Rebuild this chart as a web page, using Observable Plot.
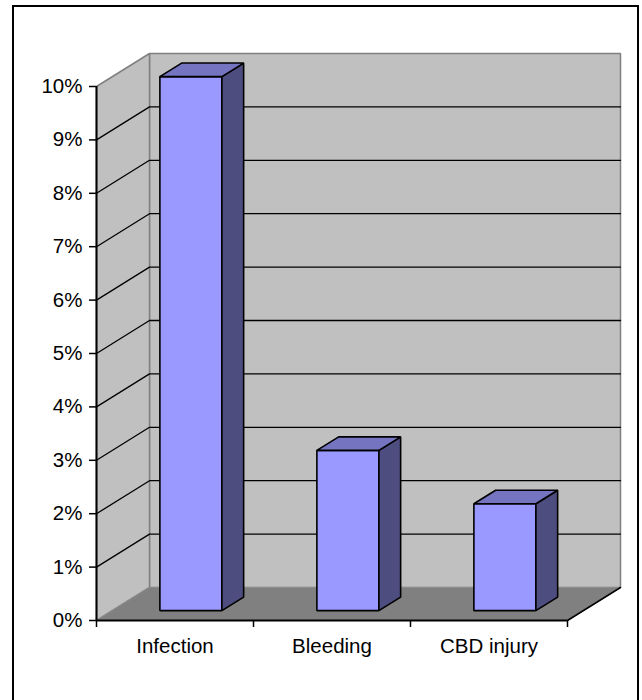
<!DOCTYPE html>
<html>
<head>
<meta charset="utf-8">
<script src="https://cdn.jsdelivr.net/npm/d3@7"></script>
<script src="https://cdn.jsdelivr.net/npm/@observablehq/plot@0.6"></script>
<style>
  html, body { margin: 0; padding: 0; overflow: hidden; background: #fff; width: 642px; height: 700px; }
  #frame { position: absolute; left: 12px; top: 5px; width: 627px; height: 720px; box-sizing: border-box; border: 2px solid #000; }
  #chart { position: absolute; left: 0; top: 0; }
</style>
</head>
<body>
<div id="frame"></div>
<div id="chart"></div>
<script>
// ---- data ----
const categories = ["Infection", "Bleeding", "CBD injury"];
const values = [0.10, 0.03, 0.02];
const yTicks = [0, 0.01, 0.02, 0.03, 0.04, 0.05, 0.06, 0.07, 0.08, 0.09, 0.10];
const gridValues = [0.01, 0.02, 0.03, 0.04, 0.05, 0.06, 0.07, 0.08, 0.09];
const categoryBounds = [-0.5, 0.5, 1.5, 2.5];

// ---- oblique 3D projection in data units ----
const DX = 0.3376;   // depth shift along x (category units)
const DY = 0.00618;  // depth shift along y (value units)
const yMax = 0.10;
const xMin = -0.5, xMax = 2.5;
const W = 0.395, d1 = 0.30, d2 = 0.71;
const P = (x, y, d) => ({x: x + d * DX, y: y + d * DY});
const poly = (id, pts) => pts.map(p => ({id, ...p}));

const backWall = poly("back", [P(xMin,0,1), P(xMax,0,1), P(xMax,yMax,1), P(xMin,yMax,1)]);
const leftWall = poly("left", [P(xMin,0,0), P(xMin,0,1), P(xMin,yMax,1), P(xMin,yMax,0)]);
const floor = poly("floor", [P(xMin,0,0), P(xMax,0,0), P(xMax,0,1), P(xMin,0,1)]);
const grid = gridValues.flatMap(v => poly(v, [P(xMin,v,0), P(xMin,v,1), P(xMax,v,1)]));

const fronts = [], sides = [], tops = [];
values.forEach((v, i) => {
  const xl = i - W / 2, xr = i + W / 2;
  fronts.push(...poly(i, [P(xl,0,d1), P(xr,0,d1), P(xr,v,d1), P(xl,v,d1)]));
  sides.push(...poly(i, [P(xr,0,d1), P(xr,0,d2), P(xr,v,d2), P(xr,v,d1)]));
  tops.push(...poly(i, [P(xl,v,d1), P(xr,v,d1), P(xr,v,d2), P(xl,v,d2)]));
});

const face = (data, fill, stroke, sw) => Plot.line(data, {
  x: "x", y: "y", z: "id", fill, stroke, strokeWidth: sw,
  curve: "linear-closed", strokeLinejoin: "miter", strokeLinecap: "butt"
});

const chart = Plot.plot({
  width: 642,
  height: 700,
  marginLeft: 96,
  marginRight: 22,
  marginTop: 53,
  marginBottom: 80,
  style: {fontFamily: "'Liberation Sans', Arial, sans-serif", fontSize: "20.5px", background: "transparent", color: "#000"},
  x: {type: "linear", domain: [xMin, xMax + DX]},
  y: {type: "linear", domain: [0, yMax + DY]},
  marks: [
    face(backWall, "#C0C0C0", "#808080", 1.5),
    face(leftWall, "#C0C0C0", "#808080", 1.5),
    face(floor, "#808080", "#8a8a8a", 1),
    Plot.line(grid, {x: "x", y: "y", z: "id", stroke: "#000", strokeWidth: 1.3, strokeLinejoin: "miter"}),
    Plot.line(poly("re", [P(xMax,0,0), P(xMax,0,1)]), {x: "x", y: "y", stroke: "#000", strokeWidth: 1.5}),
    face(fronts, "#9999FF", "#000", 1.6),
    face(sides, "#4D4D80", "#000", 1.6),
    face(tops, "#7474C0", "#000", 1.6),
    Plot.ruleX([xMin], {y1: 0, y2: yMax, stroke: "#000", strokeWidth: 2}),
    Plot.ruleY([0], {x1: xMin, x2: xMax, stroke: "#000", strokeWidth: 2}),
    Plot.axisY({ticks: yTicks, tickFormat: d => Math.round(d * 100) + "%", tickSize: 7, tickPadding: 7, strokeWidth: 1.5, label: null}),
    Plot.axisX({ticks: categoryBounds, tickFormat: () => "", tickSize: 7, strokeWidth: 1.5, label: null}),
    Plot.axisX({ticks: [0, 1, 2], tickFormat: i => categories[i], tickSize: 0, tickPadding: 18, label: null})
  ]
});
document.getElementById("chart").appendChild(chart);
</script>
</body>
</html>
